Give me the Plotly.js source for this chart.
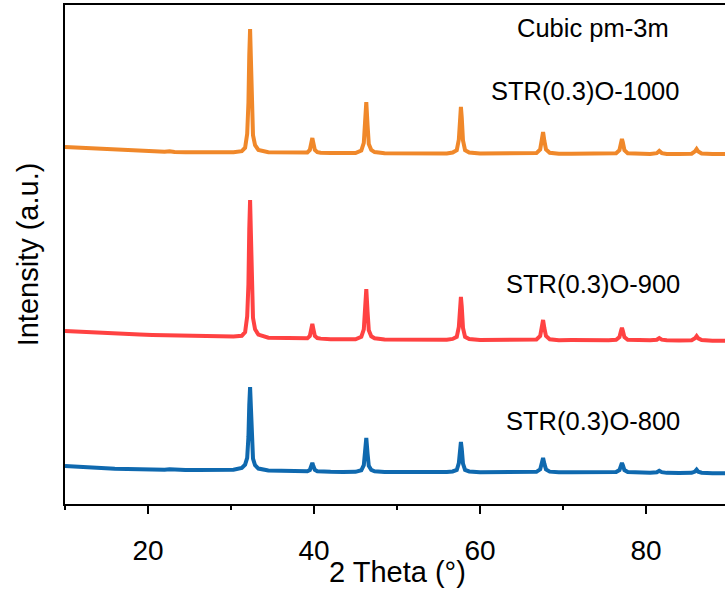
<!DOCTYPE html>
<html>
<head>
<meta charset="utf-8">
<script src="https://cdn.plot.ly/plotly-3.0.1.min.js"></script>
<style>
  html, body { margin: 0; padding: 0; overflow: hidden; background: #fff; }
  #chart { width: 729px; height: 596px; }
</style>
</head>
<body>
<div id="chart"></div>
<script>
// 2θ positions (degrees), grouped by background stretches and reflections
const twoTheta = [
  10, 11.5, 13, 14.5, 16, 17.5, 19, 20.5, 22, 22.6, 23.2, 24.5, 26, 27.5, 29, 30.3,
  31.3, 31.7, 31.95, 32.1, 32.2, 32.3, 32.4, 32.5, 32.65, 32.9, 33.3,
  34.5, 36, 37.5, 38.8,
  39.2, 39.5, 39.7, 39.8, 39.9, 40.1, 40.4, 40.8,
  42, 43.5, 45,
  45.7, 46.0, 46.15, 46.3, 46.45, 46.6, 46.9, 47.3,
  48.5, 50, 51.5, 53, 54.5, 56,
  56.7, 57.2, 57.45, 57.6, 57.7, 57.8, 57.95, 58.2, 58.7,
  60, 61.5, 63, 64.5, 66,
  66.8, 67.25, 67.45, 67.6, 67.75, 67.95, 68.4,
  69.5, 71, 72.5, 74, 75.5,
  76.4, 76.8, 77.0, 77.1, 77.2, 77.4, 77.8,
  79, 80.5, 81.3, 81.6, 81.9, 82.5,
  84, 85.5, 85.9, 86.1, 86.3, 86.7, 88, 89, 90
];

// Diffracted intensity (counts) for each calcination temperature
const intensity800 = [
  381, 372, 364, 358, 353, 350, 346, 345, 343, 347, 342, 341, 340, 341, 340, 343,
  362, 395, 463, 672, 988, 1172, 963, 638, 455, 388, 355,
  335, 331, 328, 326,
  328, 341, 389, 411, 386, 342, 329, 325,
  322, 321, 322,
  338, 389, 525, 661, 508, 382, 341, 328,
  321, 320, 322, 319, 320, 321,
  326, 341, 410, 561, 621, 555, 404, 341, 326,
  319, 320, 318, 319, 318,
  322, 347, 411, 461, 404, 347, 324,
  317, 318, 316, 317, 316,
  320, 340, 392, 411, 392, 340, 320,
  313, 312, 318, 333, 319, 312,
  311, 313, 325, 345, 324, 314, 309, 308, 309
];

const intensity900 = [
  233, 226, 219, 214, 208, 203, 198, 194, 191, 197, 189, 186, 182, 179, 176, 178,
  185, 222, 380, 700, 1250, 1546, 1200, 660, 365, 250, 198,
  166, 162, 159, 156,
  160, 184, 266, 304, 262, 184, 163, 157,
  152, 151, 150,
  175, 250, 452, 654, 427, 241, 180, 160,
  149, 148, 148, 147, 146, 146,
  154, 175, 274, 488, 574, 480, 265, 175, 154,
  144, 143, 144, 142, 143,
  149, 183, 274, 344, 264, 183, 151,
  142, 143, 141, 142, 141,
  146, 172, 239, 264, 239, 172, 146,
  140, 140, 146, 163, 147, 141,
  139, 141, 160, 183, 160, 143, 137, 136, 136
];

const intensity1000 = [
  277, 270, 262, 256, 250, 245, 238, 233, 229, 234, 227, 225, 223, 222, 226, 224,
  236, 270, 410, 720, 1190, 1460, 1150, 670, 395, 295, 247,
  225, 221, 220, 219,
  222, 247, 330, 367, 325, 247, 226, 220,
  217, 216, 216,
  242, 318, 523, 728, 498, 308, 247, 226,
  215, 214, 214, 213, 213, 212,
  221, 245, 352, 585, 678, 575, 342, 245, 221,
  211, 211, 210, 210, 210,
  216, 253, 351, 427, 340, 253, 219,
  209, 209, 209, 208, 208,
  214, 245, 327, 357, 327, 245, 214,
  208, 207, 215, 237, 216, 208,
  207, 210, 233, 257, 232, 212, 206, 206, 207
];

const sampleNames = ['STR(0.3)O-800', 'STR(0.3)O-900', 'STR(0.3)O-1000'];
const phaseLabel = 'Cubic pm-3m';
const xTicks = [20, 40, 60, 80];
const xTitle = '2 Theta (°)';
const yTitle = 'Intensity (a.u.)';

// vertical stacking of the patterns
const stackOffsets = [0, 1500, 3300];
const colors = ['#0F69AF', '#FF4242', '#F0882A'];
const series = [intensity800, intensity900, intensity1000];

const FONT = 'Arial, "Liberation Sans", sans-serif';

const traces = series.map((vals, i) => ({
  type: 'scatter',
  mode: 'lines',
  x: twoTheta,
  y: vals.map(v => v + stackOffsets[i]),
  name: sampleNames[i],
  line: { color: colors[i], width: 4 },
  hoverinfo: 'x+y+name'
}));

const labelY = [0.166, 0.441, 0.828];
const annotations = sampleNames.map((t, i) => ({
  text: t, xref: 'paper', yref: 'paper',
  x: 0.929, y: labelY[i], xanchor: 'right', yanchor: 'middle',
  showarrow: false, font: { family: FONT, size: 25.5, color: '#000' }
}));
annotations.push({
  text: phaseLabel, xref: 'paper', yref: 'paper',
  x: 0.913, y: 0.954, xanchor: 'right', yanchor: 'middle',
  showarrow: false, font: { family: FONT, size: 25.5, color: '#000' }
});
// x-axis title, set close under the tick labels
annotations.push({
  text: xTitle, xref: 'paper', yref: 'paper',
  x: 0.5, y: -0.1363, xanchor: 'center', yanchor: 'middle',
  showarrow: false, font: { family: FONT, size: 29, color: '#000' }
});

const layout = {
  width: 729, height: 596,
  margin: { l: 65, r: 0, t: 5, b: 92 },
  paper_bgcolor: '#fff', plot_bgcolor: '#fff',
  showlegend: false,
  font: { family: FONT, color: '#000' },
  xaxis: {
    range: [10, 90],
    tickvals: xTicks,
    ticktext: xTicks.map(String),
    ticks: 'outside', ticklen: 8, tickwidth: 2, tickcolor: '#000',
    ticklabelstandoff: 12,
    minor: { dtick: 10, tick0: 0, ticks: 'outside', ticklen: 4, tickwidth: 2, tickcolor: '#000' },
    showline: true, linewidth: 2, linecolor: '#000', mirror: true,
    showgrid: false, zeroline: false,
    automargin: false,
    tickfont: { family: FONT, size: 28, color: '#000' }
  },
  yaxis: {
    range: [0, 5000],
    showticklabels: false, ticks: '',
    showline: true, linewidth: 2, linecolor: '#000', mirror: true,
    showgrid: false, zeroline: false,
    automargin: false,
    title: { text: yTitle, font: { family: FONT, size: 29, color: '#000' }, standoff: 16 }
  },
  annotations: annotations
};

Plotly.newPlot('chart', traces, layout, { displayModeBar: false, staticPlot: true });
</script>
</body>
</html>
